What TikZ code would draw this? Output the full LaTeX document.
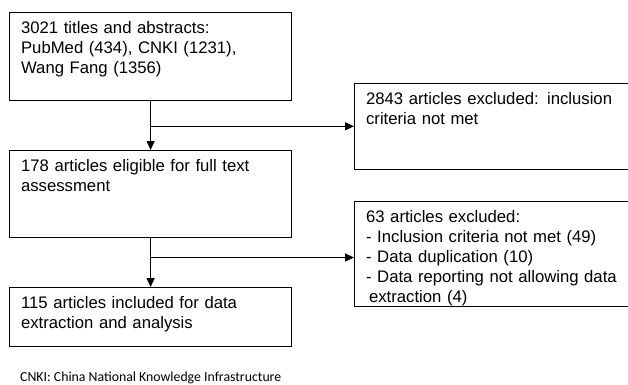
\documentclass[tikz,border=0pt]{standalone}
\usepackage{fontspec}
\setmainfont{Liberation Sans}
\newfontfamily\notefont{Carlito}
\usetikzlibrary{arrows.meta,positioning}
\tikzset{
  box/.style={draw, rectangle, anchor=north west, line width=1.2pt, text width=259pt,
    align=left, inner xsep=11.5pt, inner ysep=5pt, text height=16pt,
    font=\fontsize{16.7}{20}\selectfont},
  arr/.style={line width=1.2pt, -{Triangle[length=9pt,width=8pt]}}
}

\begin{document}
\begin{tikzpicture}[x=1pt,y=-1pt]
        \clip (0,0) rectangle (628,384);

        % Main flow
        \node[box,text depth=62pt] (titles) at (9,11.5) {3021 titles and abstracts:\\PubMed (434), CNKI (1231),\\Wang Fang (1356)};
        \node[box,text depth=61pt] (eligible) at (9,150) {178 articles eligible for full text\\assessment};
        \node[box,text depth=33pt] (included) at (9,287) {115 articles included for data\\extraction and analysis};

        % Exclusions
        \node[box,text depth=60pt] (excl1) at (354,82.7) {2843 articles excluded: inclusion\\criteria not met};
        \node[box,text depth=79pt] (excl2) at (354,201) {63 articles excluded:\\- Inclusion criteria not met (49)\\- Data duplication (10)\\- Data reporting not allowing data\\\hspace{3pt}extraction (4)};

        % Arrows
        \draw[arr] (titles) -- (eligible);
        \draw[arr] (eligible) -- (included);
        \coordinate (split1) at (titles.south |- excl1.west);
        \draw[arr] (split1) -- (excl1.west);
        \coordinate (split2) at (150.5,257.5);
        \draw[arr] (split2) -- (split2 -| excl2.west);

        % Note
        \node[anchor=base west,inner sep=0pt,font=\notefont\fontsize{13.8}{16}\selectfont] (note) at (20,381) {CNKI: China National Knowledge Infrastructure};
    \end{tikzpicture}
\end{document}
